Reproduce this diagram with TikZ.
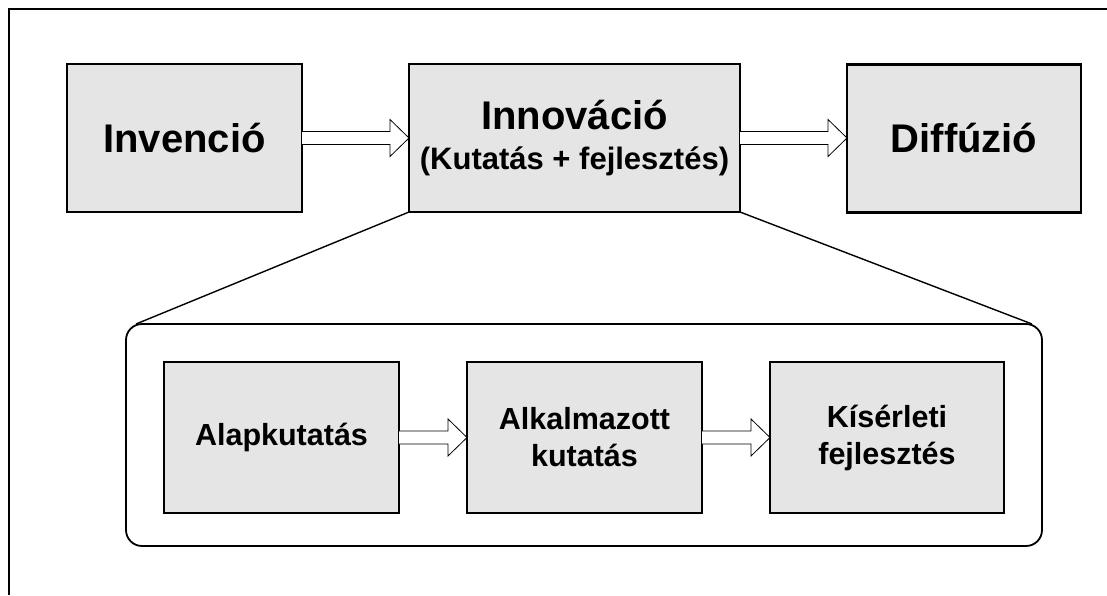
\documentclass[tikz,border=0pt]{standalone}
\usepackage{fontspec}
\setmainfont{Liberation Sans}
\usetikzlibrary{positioning,calc}

\definecolor{boxgray}{RGB}{229,229,229}

% hollow block arrow from the east side of #1 to the west side of #2
\newcommand{\blockarrow}[2]{%
\draw[blockarr] let \p1=(#1.east), \p2=(#2.west) in
(\x1,\y1+6.5pt) -- (\x2-19pt,\y1+6.5pt) -- (\x2-19pt,\y1+18.5pt) -- (\x2,\y1)
-- (\x2-19pt,\y1-18.5pt) -- (\x2-19pt,\y1-6.5pt) -- (\x1,\y1-6.5pt);}

\begin{document}
\begin{tikzpicture}[x=1pt,y=-1pt,
bigbox/.style={draw, fill=boxgray, line width=2.6pt, inner sep=0pt, outer sep=0pt, minimum height=148pt, align=center, font=\bfseries\fontsize{40}{42}\selectfont},
smallbox/.style={draw, fill=boxgray, line width=1.8pt, inner sep=0pt, outer sep=0pt, minimum width=235pt, minimum height=151pt, align=center, font=\bfseries\fontsize{30.5}{37}\selectfont},
blockarr/.style={draw, fill=white, line width=0.8pt},
framebox/.style={draw, line width=1.8pt, rounded corners=16pt, minimum width=916pt, minimum height=222pt, inner sep=0pt, outer sep=0pt}]
\useasboundingbox (0,0) rectangle (1107,595);
\draw[line width=1.8pt] (9,595) -- (9,9) -- (1107,9);
% top row
\node[bigbox, minimum width=235pt] (inv) at (184.5,138) {Invenció};
\node[bigbox, minimum width=331pt] (inn) at (574.5,138) {Innováció\\[-2pt]{\fontsize{31}{37}\selectfont (Kutatás + fejlesztés)}};
\node[bigbox, minimum width=234pt] (dif) at (964,138.5) {Diffúzió};
\blockarrow{inv}{inn}
\blockarrow{inn}{dif}
% zoom into the innovation phase
\node[framebox] (frame) at (584,435) {};
\draw[line width=1.4pt] (inn.south west) -- ([xshift=10pt]frame.north west);
\draw[line width=1.4pt] (inn.south east) -- ([xshift=-10pt]frame.north east);
\node[smallbox] (alap) at (281.5,437.5) {Alapkutatás};
\node[smallbox] (alk) at (584.5,437.5) {Alkalmazott\\kutatás};
\node[smallbox, minimum width=234pt] (kis) at (887,437.5) {Kísérleti\\fejlesztés};
\blockarrow{alap}{alk}
\blockarrow{alk}{kis}
\end{tikzpicture}
\end{document}
